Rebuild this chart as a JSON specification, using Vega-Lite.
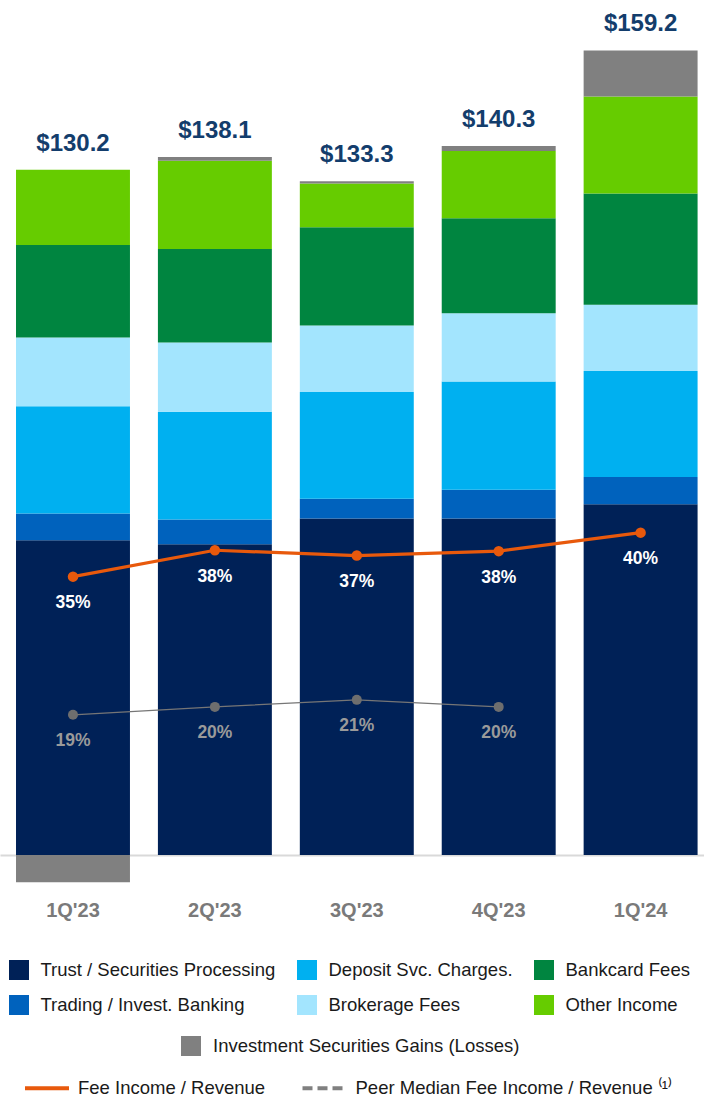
{
  "$schema": "https://vega.github.io/schema/vega-lite/v6.json",
  "width": 704,
  "height": 855,
  "autosize": {"type": "none"},
  "padding": {"left": 0, "top": 0, "right": 0, "bottom": 242},
  "background": "white",
  "config": {
    "view": {"stroke": null},
    "font": "Liberation Sans",
    "axisX": {"labelAngle": 0, "ticks": false, "tickSize": 0, "labelPadding": 61.5, "labelBaseline": "alphabetic", "labelFont": "Liberation Sans", "labelFontSize": 20, "labelFontWeight": "bold", "labelColor": "#7a7a7a", "domain": true, "domainColor": "#d9d9d9", "domainWidth": 2, "grid": false},
    "legend": {"labelFont": "Liberation Sans", "labelFontSize": 18.5, "labelColor": "#1a1a1a", "labelLimit": 600, "title": null}
  },
  "datasets": {
    "bars": [
      {"q": "1Q'23", "cat": "Trust / Securities Processing", "ord": 1, "value": 62.3},
      {"q": "1Q'23", "cat": "Trading / Invest. Banking", "ord": 2, "value": 5.3},
      {"q": "1Q'23", "cat": "Deposit Svc. Charges.", "ord": 3, "value": 21.2},
      {"q": "1Q'23", "cat": "Brokerage Fees", "ord": 4, "value": 13.6},
      {"q": "1Q'23", "cat": "Bankcard Fees", "ord": 5, "value": 18.3},
      {"q": "1Q'23", "cat": "Other Income", "ord": 6, "value": 14.9},
      {"q": "1Q'23", "cat": "Investment Securities Gains (Losses)", "ord": 7, "value": -5.4},
      {"q": "2Q'23", "cat": "Trust / Securities Processing", "ord": 1, "value": 61.5},
      {"q": "2Q'23", "cat": "Trading / Invest. Banking", "ord": 2, "value": 4.9},
      {"q": "2Q'23", "cat": "Deposit Svc. Charges.", "ord": 3, "value": 21.3},
      {"q": "2Q'23", "cat": "Brokerage Fees", "ord": 4, "value": 13.7},
      {"q": "2Q'23", "cat": "Bankcard Fees", "ord": 5, "value": 18.5},
      {"q": "2Q'23", "cat": "Other Income", "ord": 6, "value": 17.5},
      {"q": "2Q'23", "cat": "Investment Securities Gains (Losses)", "ord": 7, "value": 0.7},
      {"q": "3Q'23", "cat": "Trust / Securities Processing", "ord": 1, "value": 66.6},
      {"q": "3Q'23", "cat": "Trading / Invest. Banking", "ord": 2, "value": 3.9},
      {"q": "3Q'23", "cat": "Deposit Svc. Charges.", "ord": 3, "value": 21.1},
      {"q": "3Q'23", "cat": "Brokerage Fees", "ord": 4, "value": 13.2},
      {"q": "3Q'23", "cat": "Bankcard Fees", "ord": 5, "value": 19.4},
      {"q": "3Q'23", "cat": "Other Income", "ord": 6, "value": 8.7},
      {"q": "3Q'23", "cat": "Investment Securities Gains (Losses)", "ord": 7, "value": 0.4},
      {"q": "4Q'23", "cat": "Trust / Securities Processing", "ord": 1, "value": 66.6},
      {"q": "4Q'23", "cat": "Trading / Invest. Banking", "ord": 2, "value": 5.7},
      {"q": "4Q'23", "cat": "Deposit Svc. Charges.", "ord": 3, "value": 21.4},
      {"q": "4Q'23", "cat": "Brokerage Fees", "ord": 4, "value": 13.5},
      {"q": "4Q'23", "cat": "Bankcard Fees", "ord": 5, "value": 18.8},
      {"q": "4Q'23", "cat": "Other Income", "ord": 6, "value": 13.3},
      {"q": "4Q'23", "cat": "Investment Securities Gains (Losses)", "ord": 7, "value": 1.0},
      {"q": "1Q'24", "cat": "Trust / Securities Processing", "ord": 1, "value": 69.4},
      {"q": "1Q'24", "cat": "Trading / Invest. Banking", "ord": 2, "value": 5.4},
      {"q": "1Q'24", "cat": "Deposit Svc. Charges.", "ord": 3, "value": 21.0},
      {"q": "1Q'24", "cat": "Brokerage Fees", "ord": 4, "value": 13.1},
      {"q": "1Q'24", "cat": "Bankcard Fees", "ord": 5, "value": 22.0},
      {"q": "1Q'24", "cat": "Other Income", "ord": 6, "value": 19.2},
      {"q": "1Q'24", "cat": "Investment Securities Gains (Losses)", "ord": 7, "value": 9.1}
    ],
    "fee": [
      {"q": "1Q'23", "pct": 0.350},
      {"q": "2Q'23", "pct": 0.380},
      {"q": "3Q'23", "pct": 0.374},
      {"q": "4Q'23", "pct": 0.379},
      {"q": "1Q'24", "pct": 0.400}
    ],
    "peer": [
      {"q": "1Q'23", "pct": 0.193},
      {"q": "2Q'23", "pct": 0.202},
      {"q": "3Q'23", "pct": 0.210},
      {"q": "4Q'23", "pct": 0.202}
    ]
  },
  "layer": [
    {
      "layer": [
        {
          "data": {"name": "bars"},
          "mark": {"type": "bar"},
          "encoding": {
            "x": {
              "field": "q", "type": "nominal",
              "sort": ["1Q'23", "2Q'23", "3Q'23", "4Q'23", "1Q'24"],
              "scale": {"paddingInner": 0.197, "paddingOuter": 0.079, "align": 0.714},
              "axis": {"title": null}
            },
            "y": {"field": "value", "type": "quantitative", "stack": "zero", "scale": {"domain": [0, 169.19], "nice": false, "zero": false}, "axis": null},
            "color": {
              "field": "cat", "type": "nominal",
              "scale": {
                "domain": ["Trust / Securities Processing", "Trading / Invest. Banking", "Deposit Svc. Charges.", "Brokerage Fees", "Bankcard Fees", "Other Income", "Investment Securities Gains (Losses)"],
                "range": ["#002157", "#0062BD", "#00B0F0", "#A3E5FE", "#008540", "#66CC00", "#808080"]
              },
              "legend": {
                "title": null, "orient": "none", "legendX": 9, "legendY": 960,
                "direction": "horizontal", "columns": 3,
                "values": ["Trust / Securities Processing", "Deposit Svc. Charges.", "Bankcard Fees", "Trading / Invest. Banking", "Brokerage Fees", "Other Income"],
                "symbolType": "square", "symbolSize": 400, "symbolStrokeWidth": 0, "symbolOpacity": 1,
                "labelFontSize": 18.5, "labelColor": "#1a1a1a", "labelLimit": 600, "labelOffset": 11.5,
                "columnPadding": 21, "rowPadding": 15
              }
            },
            "order": {"field": "ord", "type": "quantitative", "sort": "ascending"}
          }
        },
        {
          "data": {"name": "bars"},
          "transform": [
            {"joinaggregate": [{"op": "sum", "field": "value", "as": "total"}], "groupby": ["q"]},
            {"filter": "datum.value > 0"},
            {"aggregate": [{"op": "sum", "field": "value", "as": "top"}, {"op": "max", "field": "total", "as": "total"}], "groupby": ["q"]}
          ],
          "mark": {"type": "text", "font": "Liberation Sans", "fontSize": 24, "fontWeight": "bold", "color": "#133D6C", "baseline": "alphabetic", "dy": -19},
          "encoding": {
            "x": {"field": "q", "type": "nominal", "sort": ["1Q'23", "2Q'23", "3Q'23", "4Q'23", "1Q'24"], "axis": {"title": null}},
            "y": {"field": "top", "type": "quantitative", "scale": {"domain": [0, 169.19], "nice": false, "zero": false}, "axis": null},
            "text": {"field": "total", "type": "quantitative", "format": "$.1f"}
          }
        },
        {
          "data": {"values": [{"cat": "Investment Securities Gains (Losses)"}]},
          "mark": {"type": "bar"},
          "encoding": {
            "y": {"datum": 500, "type": "quantitative", "scale": {"domain": [0, 169.19], "nice": false, "zero": false}, "axis": null},
            "y2": {"datum": 500},
            "fill": {
              "field": "cat", "type": "nominal",
              "scale": {"domain": ["Investment Securities Gains (Losses)"], "range": ["#808080"]},
              "legend": {
                "title": null, "orient": "none", "legendX": 181, "legendY": 1036,
                "symbolType": "square", "symbolSize": 400, "symbolStrokeWidth": 0, "symbolOpacity": 1,
                "labelFontSize": 18.5, "labelColor": "#1a1a1a", "labelLimit": 600, "labelOffset": 12
              }
            }
          }
        }
      ]
    },
    {
      "layer": [
        {
          "data": {"name": "peer"},
          "mark": {"type": "line", "color": "#767676", "strokeWidth": 1.3},
          "encoding": {
            "x": {"field": "q", "type": "nominal", "sort": ["1Q'23", "2Q'23", "3Q'23", "4Q'23", "1Q'24"], "axis": {"title": null}},
            "y": {"field": "pct", "type": "quantitative", "scale": {"domain": [0.0337, 1.0053], "nice": false, "zero": false}, "axis": null}
          }
        },
        {
          "data": {"name": "peer"},
          "mark": {"type": "circle", "color": "#6e6e6e", "size": 100, "opacity": 1},
          "encoding": {
            "x": {"field": "q", "type": "nominal", "sort": ["1Q'23", "2Q'23", "3Q'23", "4Q'23", "1Q'24"], "axis": {"title": null}},
            "y": {"field": "pct", "type": "quantitative", "scale": {"domain": [0.0337, 1.0053], "nice": false, "zero": false}, "axis": null}
          }
        },
        {
          "data": {"name": "peer"},
          "mark": {"type": "text", "font": "Liberation Sans", "fontSize": 17.5, "fontWeight": "bold", "color": "#9a9a9a", "baseline": "alphabetic", "dy": 31},
          "encoding": {
            "x": {"field": "q", "type": "nominal", "sort": ["1Q'23", "2Q'23", "3Q'23", "4Q'23", "1Q'24"], "axis": {"title": null}},
            "y": {"field": "pct", "type": "quantitative", "scale": {"domain": [0.0337, 1.0053], "nice": false, "zero": false}, "axis": null},
            "text": {"field": "pct", "type": "quantitative", "format": ".0%"}
          }
        },
        {
          "data": {"name": "fee"},
          "mark": {"type": "line", "color": "#E8590C", "strokeWidth": 3.2},
          "encoding": {
            "x": {"field": "q", "type": "nominal", "sort": ["1Q'23", "2Q'23", "3Q'23", "4Q'23", "1Q'24"], "axis": {"title": null}},
            "y": {"field": "pct", "type": "quantitative", "scale": {"domain": [0.0337, 1.0053], "nice": false, "zero": false}, "axis": null}
          }
        },
        {
          "data": {"name": "fee"},
          "mark": {"type": "circle", "color": "#E8590C", "size": 110, "opacity": 1},
          "encoding": {
            "x": {"field": "q", "type": "nominal", "sort": ["1Q'23", "2Q'23", "3Q'23", "4Q'23", "1Q'24"], "axis": {"title": null}},
            "y": {"field": "pct", "type": "quantitative", "scale": {"domain": [0.0337, 1.0053], "nice": false, "zero": false}, "axis": null}
          }
        },
        {
          "data": {"name": "fee"},
          "mark": {"type": "text", "font": "Liberation Sans", "fontSize": 17.5, "fontWeight": "bold", "color": "#ffffff", "baseline": "alphabetic", "dy": 31.5},
          "encoding": {
            "x": {"field": "q", "type": "nominal", "sort": ["1Q'23", "2Q'23", "3Q'23", "4Q'23", "1Q'24"], "axis": {"title": null}},
            "y": {"field": "pct", "type": "quantitative", "scale": {"domain": [0.0337, 1.0053], "nice": false, "zero": false}, "axis": null},
            "text": {"field": "pct", "type": "quantitative", "format": ".0%"}
          }
        },
        {
          "data": {"values": [{"series": "Fee Income / Revenue"}, {"series": "Peer Median Fee Income / Revenue ⁽¹⁾"}]},
          "mark": {"type": "line", "strokeWidth": 4},
          "encoding": {
            "y": {"datum": -10, "type": "quantitative", "scale": {"domain": [0.0337, 1.0053], "nice": false, "zero": false}, "axis": null},
            "stroke": {
              "field": "series", "type": "nominal",
              "scale": {"domain": ["Fee Income / Revenue", "Peer Median Fee Income / Revenue ⁽¹⁾"], "range": ["#E8590C", "#808080"]},
              "legend": {
                "title": null, "orient": "none", "legendX": 23, "legendY": 1064,
                "direction": "horizontal", "columns": 2,
                "symbolType": "stroke", "symbolSize": 1936, "symbolStrokeWidth": 4,
                "labelFontSize": 18.5, "labelColor": "#1a1a1a", "labelLimit": 600, "labelOffset": 7, "columnPadding": 28.5
              }
            },
            "strokeDash": {
              "field": "series", "type": "nominal",
              "scale": {"domain": ["Fee Income / Revenue", "Peer Median Fee Income / Revenue ⁽¹⁾"], "range": [[1, 0], [10, 5]]},
              "legend": {
                "title": null, "orient": "none", "legendX": 23, "legendY": 1064,
                "direction": "horizontal", "columns": 2,
                "symbolType": "stroke", "symbolSize": 1936, "symbolStrokeWidth": 4,
                "labelFontSize": 18.5, "labelColor": "#1a1a1a", "labelLimit": 600, "labelOffset": 7, "columnPadding": 28.5
              }
            }
          }
        }
      ]
    }
  ],
  "resolve": {"scale": {"y": "independent"}, "axis": {"y": "independent"}}
}
